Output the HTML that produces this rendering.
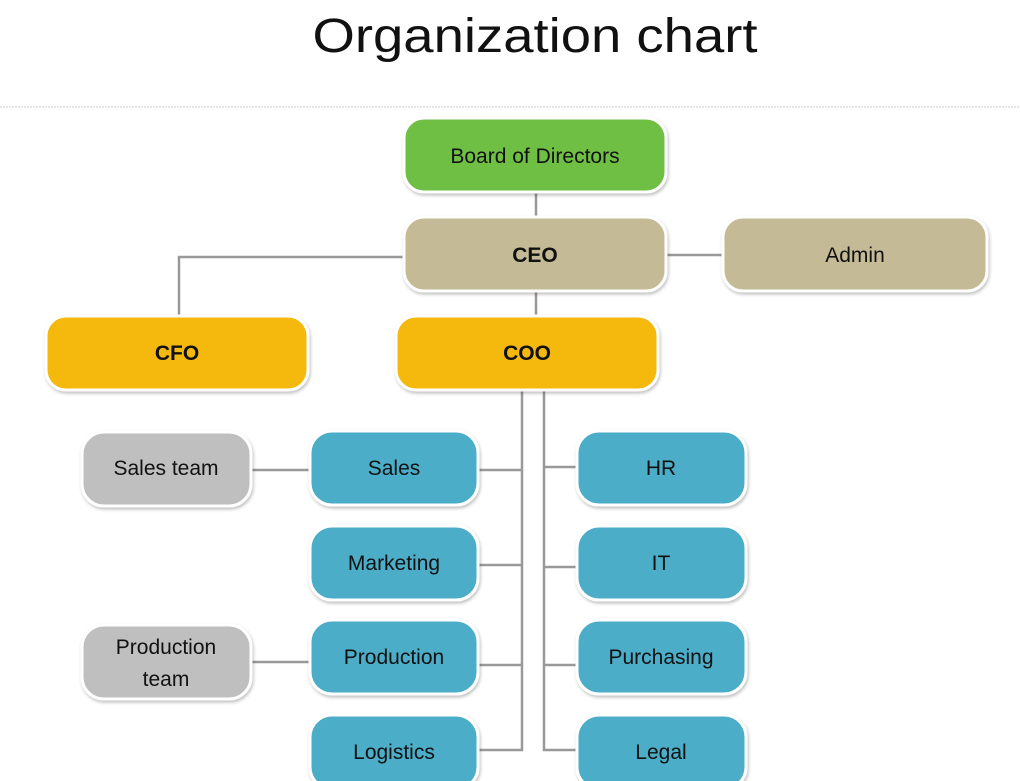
<!DOCTYPE html>
<html><head><meta charset="utf-8"><style>
html,body{margin:0;padding:0;background:#fff;width:1020px;height:781px;overflow:hidden}
text{font-family:"Liberation Sans",sans-serif;fill:#111}
</style></head><body>
<svg width="1020" height="781" xmlns="http://www.w3.org/2000/svg">
<defs>
<filter id="sh" x="-10%" y="-10%" width="120%" height="130%"><feDropShadow dx="1" dy="2" stdDeviation="1.5" flood-color="#000" flood-opacity="0.25"/></filter>
</defs>
<text x="535" y="52" font-size="48" text-anchor="middle" textLength="445" lengthAdjust="spacingAndGlyphs">Organization chart</text>
<line x1="0" y1="107" x2="1020" y2="107" stroke="#ccc" stroke-width="1" stroke-dasharray="2,1"/>
<g stroke="#999" stroke-width="2.5" fill="none">
<line x1="536" y1="190" x2="536" y2="219"/>
<line x1="536" y1="290" x2="536" y2="318"/>
<polyline points="406,257 179,257 179,318"/>
<line x1="664" y1="255" x2="725" y2="255"/>
<polyline points="522,390 522,750 476,750"/>
<polyline points="544,390 544,750 579,750"/>
<line x1="476" y1="470" x2="522" y2="470"/>
<line x1="476" y1="565" x2="522" y2="565"/>
<line x1="476" y1="665" x2="522" y2="665"/>
<line x1="544" y1="467" x2="579" y2="467"/>
<line x1="544" y1="567" x2="579" y2="567"/>
<line x1="544" y1="665" x2="579" y2="665"/>
<line x1="250" y1="470" x2="312" y2="470"/>
<line x1="250" y1="662" x2="312" y2="662"/>
</g>
<g stroke="#fff" stroke-width="3" filter="url(#sh)">
<rect x="404" y="118" width="262" height="74" rx="20" fill="#6fbf44"/>
<rect x="404" y="217" width="262" height="74" rx="20" fill="#c4ba96"/>
<rect x="723" y="217" width="264" height="74" rx="20" fill="#c4ba96"/>
<rect x="46" y="316" width="262" height="74" rx="20" fill="#f5b810"/>
<rect x="396" y="316" width="262" height="74" rx="20" fill="#f5b810"/>
<rect x="82" y="432" width="169" height="74" rx="22" fill="#bfbfbf"/>
<rect x="82" y="625" width="169" height="74" rx="22" fill="#bfbfbf"/>
<rect x="310" y="431" width="168" height="74" rx="22" fill="#4badc7"/>
<rect x="310" y="526" width="168" height="74" rx="22" fill="#4badc7"/>
<rect x="310" y="620" width="168" height="74" rx="22" fill="#4badc7"/>
<rect x="310" y="715" width="168" height="74" rx="22" fill="#4badc7"/>
<rect x="577" y="431" width="169" height="74" rx="22" fill="#4badc7"/>
<rect x="577" y="526" width="169" height="74" rx="22" fill="#4badc7"/>
<rect x="577" y="620" width="169" height="74" rx="22" fill="#4badc7"/>
<rect x="577" y="715" width="169" height="74" rx="22" fill="#4badc7"/>
</g>
<g font-size="21" text-anchor="middle">
<text x="535" y="163">Board of Directors</text>
<text x="535" y="262" font-weight="bold">CEO</text>
<text x="855" y="262">Admin</text>
<text x="177" y="360" font-weight="bold">CFO</text>
<text x="527" y="360" font-weight="bold">COO</text>
<text x="166" y="475">Sales team</text>
<text x="166" y="654">Production</text>
<text x="166" y="686">team</text>
<text x="394" y="475">Sales</text>
<text x="394" y="570">Marketing</text>
<text x="394" y="664">Production</text>
<text x="394" y="759">Logistics</text>
<text x="661" y="475">HR</text>
<text x="661" y="570">IT</text>
<text x="661" y="664">Purchasing</text>
<text x="661" y="759">Legal</text>
</g>
</svg>
</body></html>
